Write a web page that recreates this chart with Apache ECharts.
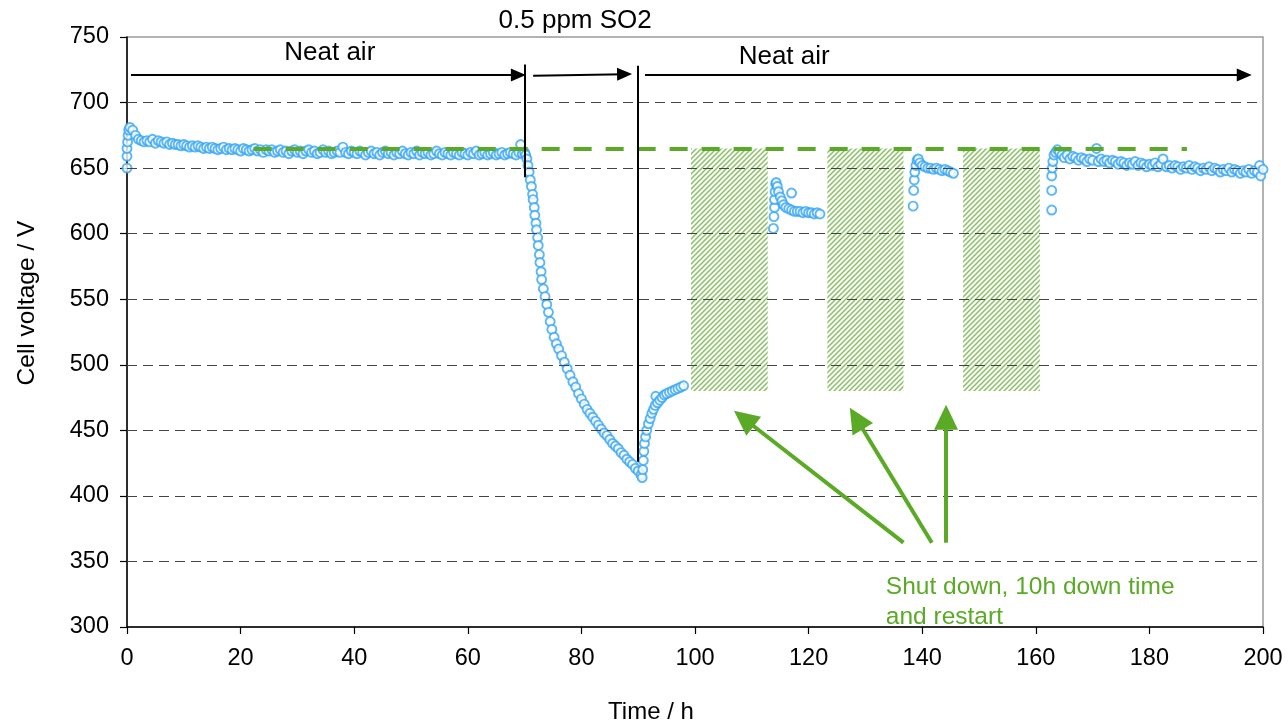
<!DOCTYPE html>
<html><head><meta charset="utf-8">
<script src="https://cdn.jsdelivr.net/npm/echarts@6/dist/echarts.min.js"></script>
<style>html,body{margin:0;padding:0;background:#fff}#c{width:1288px;height:726px}</style>
</head><body><div id="c"></div>
<script>
// ---- data: [time (h), cell voltage (V)] ----
const neatAir1 = [
[0,650],[0,659],[0,665],[0.1,670],[0.2,675],[0.3,679],[0.5,681],[1,679],[1.5,675],[2,672],[2.5,671],[3,670],[3.5,671],[4,670],[4.5,672],[5,669],[5.5,671],[6,670],[6.5,669],[7,670],[7.5,668],[8,669],[8.5,668],[9,668],[9.5,667],[10,668],[10.5,667],[11,666],[11.5,667],[12,666],[12.5,667],[13,666],[13.5,665],[14,666],[14.5,665],[15,666],[15.5,665],[16,664],[16.5,665],[17,666],[17.5,664],[18,665],[18.5,664],[19,665],[19.5,664],[20,663],[20.5,665],[21,664],[21.5,663],[22,664],[22.5,665],[23,663],[23.5,664],[24,662],[24.5,664],[25,663],[25.5,664],[26,662],[26.5,663],[27,664],[27.5,662],[28,663],[28.5,661],[29,663],[29.5,664],[30,662],[30.5,663],[31,661],[31.5,663],[32,664],[32.5,662],[33,663],[33.5,661],[34,662],[34.5,664],[35,662],[35.5,663],[36,661],[36.5,662],[37,663],[37.5,662],[38,666],[38.5,662],[39,661],[39.5,663],[40,662],[40.5,661],[41,663],[41.5,662],[42,660],[42.5,662],[43,663],[43.5,661],[44,662],[44.5,660],[45,662],[45.5,663],[46,661],[46.5,662],[47,660],[47.5,662],[48,661],[48.5,663],[49,661],[49.5,660],[50,662],[50.5,661],[51,663],[51.5,660],[52,662],[52.5,661],[53,662],[53.5,660],[54,661],[54.5,663],[55,661],[55.5,660],[56,662],[56.5,661],[57,660],[57.5,662],[58,661],[58.5,660],[59,662],[59.5,661],[60,660],[60.5,662],[61,661],[61.5,663],[62,660],[62.5,661],[63,662],[63.5,660],[64,661],[64.5,662],[65,660],[65.5,661],[66,662],[66.5,660],[67,661],[67.5,662],[68,661],[68.5,660],[69,662],[69.3,668],[69.6,661],[70,662]
];
const so2Decay = [
[70.2,660],[70.4,657],[70.6,652],[70.8,647],[71,641],[71.2,636],[71.4,630],[71.5,626],[71.7,620],[71.8,614],[72,608],[72.1,603],[72.3,597],[72.4,591],[72.6,584],[72.7,578],[72.9,571],[73,565],[73.3,558],[73.6,552],[73.9,546],[74.2,540],[74.5,533],[74.8,527],[75.2,521],[75.6,516],[76,512],[76.5,507],[77,502],[77.5,497],[78,492],[78.5,487],[79,483],[79.5,478],[80,474],[80.5,470],[81,466],[81.5,463],[82,460],[82.5,457],[83,454],[83.5,451],[84,448],[84.5,446],[85,443],[85.5,440],[86,438],[86.5,436],[87,433],[87.5,431],[88,428],[88.5,426],[89,424],[89.5,421],[90,419],[90.5,416],[90.7,414]
];
const recovery = [
[90.8,420],[90.9,427],[91,434],[91.1,440],[91.3,445],[91.5,450],[91.8,455],[92.1,459],[92.4,463],[92.7,466],[93,469],[93.1,476],[93.4,471],[93.8,473],[94.2,475],[94.6,477],[95,478],[95.5,479],[96,480],[96.5,481],[97,482],[97.5,483],[98,484]
];
const restart1 = [
[113.8,604],[113.9,613],[114,620],[114,626],[114.1,632],[114.2,638],[114.3,639],[114.5,636],[114.7,632],[115,628],[115.3,625],[115.6,622],[116,620],[116.5,619],[117,631],[117,618],[117.5,617],[118,617],[118.5,617],[119,616],[119.5,617],[120,616],[120.5,616],[121,615],[121.5,616],[122,615]
];
const restart2 = [
[138.4,621],[138.5,633],[138.6,641],[138.7,647],[138.9,652],[139.1,656],[139.3,657],[139.6,654],[140,652],[140.5,651],[141,650],[141.5,650],[142,649],[142.5,650],[143,649],[143.5,648],[144,649],[144.5,648],[145,647],[145.5,646]
];
const restart3 = [
[162.8,618],[162.8,633],[162.8,644],[162.9,650],[163,655],[163.2,660],[163.5,662],[163.8,664],[164.2,662],[164.6,660],[165,658],[165.5,660],[166,657],[166.5,659],[167,658],[167.5,656],[168,658],[168.5,657],[169,655],[169.5,657],[170,656],[170.7,665],[171,655],[171.5,657],[172,655],[172.5,656],[173,654],[173.5,656],[174,655],[174.5,653],[175,655],[175.5,654],[176,652],[176.5,654],[177,653],[177.5,655],[178,652],[178.5,654],[179,653],[179.5,651],[180,653],[180.5,652],[181,654],[181.5,651],[182,653],[182.4,657],[183,651],[183.5,652],[184,650],[184.5,652],[185,651],[185.5,649],[186,651],[186.5,650],[187,652],[187.5,649],[188,651],[188.5,650],[189,648],[189.5,650],[190,649],[190.5,651],[191,648],[191.5,650],[192,649],[192.5,647],[193,649],[193.5,648],[194,650],[194.5,647],[195,649],[195.5,648],[196,646],[196.5,648],[197,647],[197.5,649],[198,646],[198.5,648],[199,647],[199.4,652],[199.6,644],[200,649]
];
// shut-down periods [start h, end h]
const shutdowns = [[99.3,112.8],[123.3,136.7],[147.2,160.7]];
const shutdownBand = [480, 665];
const baselineV = 665, baselineRange = [22.3, 186.6];
const gridValues = [350,400,450,500,550,600,650,700];
const xRange = [0,200,20], yRange = [300,750,50];

const FONT = '"Liberation Sans", Arial, sans-serif';
const BLUE = '#35a5f5', GREEN = '#5aaa25';

function hatch(){
  const n=5;
  const c=document.createElement('canvas'); c.width=n; c.height=n;
  const g=c.getContext('2d');
  g.strokeStyle='#86c060'; g.lineWidth=1.5;
  g.beginPath(); g.moveTo(-1,n+1); g.lineTo(n+1,-1); g.stroke();
  g.beginPath(); g.moveTo(-1,1); g.lineTo(1,-1); g.stroke();
  g.beginPath(); g.moveTo(n-1,n+1); g.lineTo(n+1,n-1); g.stroke();
  return c;
}

const chart = echarts.init(document.getElementById('c'), null, {renderer:'canvas'});
const allPts = [].concat(neatAir1, so2Decay, recovery, restart1, restart2, restart3);

const arrowHead = {symbol:'triangle', symbolSize:[13,15]};
const greenHead = {symbol:'triangle', symbolSize:[24,25]};
const option = {
  animation:false,
  textStyle:{fontFamily:FONT},
  grid:{left:127,right:25,top:37,bottom:99,show:true,borderColor:'#999',borderWidth:1.5,containLabel:false},
  xAxis:{type:'value',min:xRange[0],max:xRange[1],interval:xRange[2],
    axisLine:{show:true,onZero:false,lineStyle:{color:'#000',width:1.5}},
    axisTick:{show:true,length:7,lineStyle:{color:'#000',width:1.2}},
    axisLabel:{color:'#000',fontSize:23.5,margin:20,fontFamily:FONT},
    splitLine:{show:false}},
  yAxis:{type:'value',min:yRange[0],max:yRange[1],interval:yRange[2],
    axisLine:{show:true,onZero:false,lineStyle:{color:'#000',width:1.5}},
    axisTick:{show:true,length:7,lineStyle:{color:'#000',width:1.2}},
    axisLabel:{color:'#000',fontSize:23.5,margin:18,fontFamily:FONT},
    splitLine:{show:false}},
  series:[
    {type:'line',data:[],silent:true,z:1,
      markLine:{silent:true,symbol:'none',animation:false,label:{show:false},
        lineStyle:{color:'#444',type:[10,6],width:1},
        data:gridValues.map(v=>({yAxis:v}))},
      markArea:{silent:true,itemStyle:{color:{image:hatch(),repeat:'repeat'}},
        data:shutdowns.map(s=>[{coord:[s[0],shutdownBand[1]]},{coord:[s[1],shutdownBand[0]]}])}
    },
    {type:'scatter',data:allPts,symbol:'circle',symbolSize:9,z:3,
      itemStyle:{color:'#fff',borderColor:BLUE,borderWidth:1.9}},
    {type:'line',data:[],silent:true,z:5,
      markLine:{silent:true,animation:false,label:{show:false},symbol:'none',
        data:[
          [{coord:[baselineRange[0],baselineV],lineStyle:{color:GREEN,width:4,type:[18,14]}},{coord:[baselineRange[1],baselineV]}],
          [{coord:[70,729],lineStyle:{color:'#000',width:2,type:'solid'}},{coord:[70,643]}],
          [{coord:[90,728],lineStyle:{color:'#000',width:2,type:'solid'}},{coord:[90,426]}],
          [{coord:[0.7,721],lineStyle:{color:'#000',width:2,type:'solid'}},Object.assign({coord:[68.9,721]},arrowHead)],
          [{coord:[71.5,720.4],lineStyle:{color:'#000',width:2,type:'solid'}},Object.assign({coord:[87.6,721.6]},arrowHead)],
          [{coord:[91.2,721],lineStyle:{color:'#000',width:2,type:'solid'}},Object.assign({coord:[196.7,721]},arrowHead)],
          [{coord:[136.7,364.3],lineStyle:{color:GREEN,width:4,type:'solid'}},Object.assign({coord:[108.6,459]},greenHead)],
          [{coord:[141.7,364.3],lineStyle:{color:GREEN,width:4,type:'solid'}},Object.assign({coord:[128.4,459]},greenHead)],
          [{coord:[144.2,364.3],lineStyle:{color:GREEN,width:4,type:'solid'}},Object.assign({coord:[144.2,460]},greenHead)]
        ]}
    }
  ]
};
chart.setOption(option);

function px(t,v){return chart.convertToPixel({gridIndex:0},[t,v]);}
const labels = [
  {t:35.7,v:738,text:'Neat air',size:26,color:'#000'},
  {t:78.9,v:762,text:'0.5 ppm SO2',size:26,color:'#000'},
  {t:115.7,v:735,text:'Neat air',size:26,color:'#000'}
];
const g = labels.map(l=>{const p=px(l.t,l.v);return {type:'text',x:p[0],y:p[1],z:10,
  style:{text:l.text,fontSize:l.size,fill:l.color,fontFamily:FONT,align:'center',verticalAlign:'middle'}};});
const gp = px(133.6,342);
g.push({type:'text',x:gp[0],y:gp[1],z:10,style:{text:'Shut down, 10h down time\nand restart',fontSize:24.5,lineHeight:30,fill:GREEN,fontFamily:FONT,align:'left',verticalAlign:'top'}});
g.push({type:'text',x:651,y:712,z:10,style:{text:'Time / h',fontSize:24,fill:'#000',fontFamily:FONT,align:'center',verticalAlign:'middle'}});
g.push({type:'text',x:27,y:303,rotation:Math.PI/2,z:10,style:{text:'Cell voltage / V',fontSize:24.5,fill:'#000',fontFamily:FONT,align:'center',verticalAlign:'middle'}});
chart.setOption({graphic:g});
</script></body></html>
